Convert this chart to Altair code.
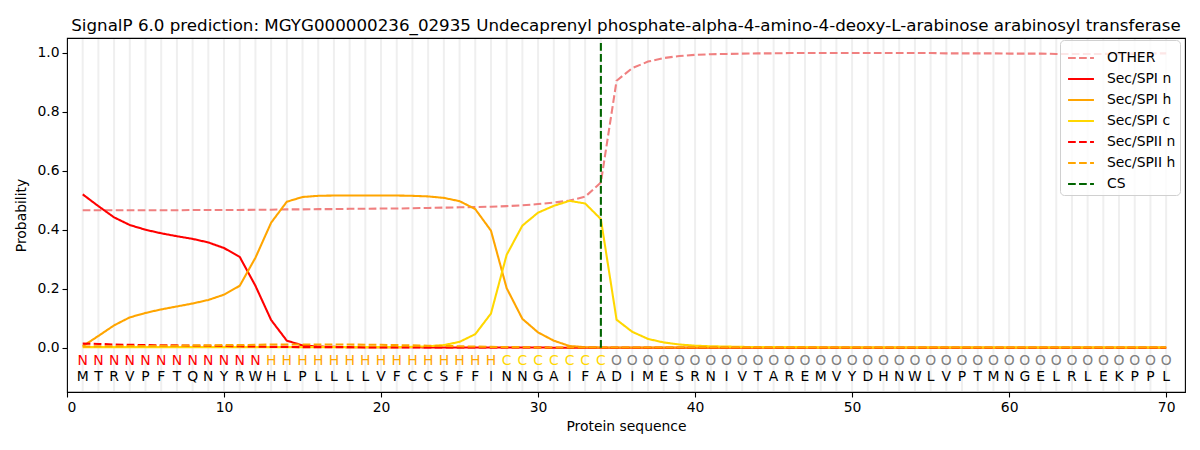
import altair as alt
import pandas as pd

TITLE = "SignalP 6.0 prediction: MGYG000000236_02935 Undecaprenyl phosphate-alpha-4-amino-4-deoxy-L-arabinose arabinosyl transferase"

SEQUENCE = list("MTRVPFTQNYRWHLPLLLLVFCCSFFINNGAIFADIMESRNIVTAREMVYDHNWLVPTMNGELRLEKPPL")
LABELS = list("NNNNNNNNNNNNHHHHHHHHHHHHHHHCCCCCCCOOOOOOOOOOOOOOOOOOOOOOOOOOOOOOOOOOOO")
CS_POS = 34

OTHER = [0.466, 0.466, 0.466, 0.466, 0.466, 0.466, 0.466, 0.467, 0.467, 0.467,
         0.467, 0.468, 0.468, 0.469, 0.469, 0.470, 0.470, 0.471, 0.471, 0.472,
         0.472, 0.473, 0.474, 0.475, 0.476, 0.477, 0.478, 0.480, 0.483, 0.487,
         0.492, 0.499, 0.512, 0.560, 0.905, 0.948, 0.970, 0.982, 0.989, 0.993,
         0.995, 0.996, 0.997, 0.998, 0.998, 0.999, 0.999, 0.999, 0.999, 0.999,
         0.999, 0.999, 0.999, 0.999, 0.999, 0.998, 0.998, 0.998, 0.998, 0.997,
         0.997, 0.997, 0.996, 0.996, 0.996, 0.996, 0.997, 0.997, 0.998, 0.998]

SPI_N = [0.520, 0.480, 0.442, 0.416, 0.400, 0.388, 0.378, 0.369, 0.357, 0.338,
         0.308, 0.210, 0.094, 0.024, 0.008, 0.004, 0.003, 0.002, 0.002, 0.002,
         0.002, 0.002, 0.001, 0.001, 0.001, 0.001, 0.001, 0.001, 0.001, 0.001,
         0.000, 0.000, 0.000, 0.000, 0.000, 0.000, 0.000, 0.000, 0.000, 0.000,
         0.000, 0.000, 0.000, 0.000, 0.000, 0.000, 0.000, 0.000, 0.000, 0.000,
         0.000, 0.000, 0.000, 0.000, 0.000, 0.000, 0.000, 0.000, 0.000, 0.000,
         0.000, 0.000, 0.000, 0.000, 0.000, 0.000, 0.000, 0.000, 0.000, 0.000]

SPI_H = [0.005, 0.040, 0.076, 0.103, 0.118, 0.130, 0.140, 0.150, 0.162, 0.180,
         0.210, 0.305, 0.424, 0.495, 0.511, 0.515, 0.516, 0.516, 0.516, 0.516,
         0.516, 0.515, 0.513, 0.508, 0.497, 0.470, 0.397, 0.202, 0.098, 0.052,
         0.024, 0.006, 0.002, 0.001, 0.001, 0.001, 0.001, 0.001, 0.001, 0.001,
         0.001, 0.001, 0.001, 0.001, 0.001, 0.001, 0.001, 0.001, 0.001, 0.001,
         0.001, 0.001, 0.001, 0.001, 0.001, 0.001, 0.001, 0.001, 0.001, 0.001,
         0.001, 0.001, 0.001, 0.001, 0.001, 0.001, 0.001, 0.001, 0.001, 0.001]

SPI_C = [0.002, 0.002, 0.002, 0.002, 0.002, 0.002, 0.002, 0.002, 0.002, 0.002,
         0.002, 0.002, 0.002, 0.002, 0.002, 0.002, 0.002, 0.002, 0.002, 0.002,
         0.002, 0.003, 0.005, 0.009, 0.020, 0.046, 0.116, 0.315, 0.414, 0.458,
         0.481, 0.498, 0.489, 0.436, 0.095, 0.054, 0.030, 0.018, 0.011, 0.007,
         0.005, 0.004, 0.003, 0.002, 0.002, 0.002, 0.002, 0.001, 0.001, 0.001,
         0.001, 0.001, 0.001, 0.001, 0.001, 0.001, 0.001, 0.001, 0.001, 0.001,
         0.001, 0.001, 0.001, 0.001, 0.001, 0.001, 0.001, 0.001, 0.001, 0.001]

SPII_N = [0.014, 0.013, 0.011, 0.010, 0.009, 0.008, 0.008, 0.007, 0.007, 0.006,
          0.005, 0.004, 0.003, 0.003, 0.002, 0.002, 0.002, 0.002, 0.001, 0.001,
          0.001, 0.001, 0.001, 0.001, 0.001, 0.001, 0.001, 0.001, 0.001, 0.001,
          0.000, 0.000, 0.000, 0.000, 0.000, 0.000, 0.000, 0.000, 0.000, 0.000,
          0.000, 0.000, 0.000, 0.000, 0.000, 0.000, 0.000, 0.000, 0.000, 0.000,
          0.000, 0.000, 0.000, 0.000, 0.000, 0.000, 0.000, 0.000, 0.000, 0.000,
          0.000, 0.000, 0.000, 0.000, 0.000, 0.000, 0.000, 0.000, 0.000, 0.000]

SPII_H = [0.004, 0.005, 0.005, 0.006, 0.006, 0.007, 0.007, 0.008, 0.008, 0.009,
          0.009, 0.010, 0.011, 0.011, 0.011, 0.011, 0.011, 0.011, 0.010, 0.010,
          0.009, 0.008, 0.007, 0.006, 0.005, 0.004, 0.003, 0.002, 0.002, 0.001,
          0.001, 0.001, 0.001, 0.001, 0.001, 0.001, 0.001, 0.001, 0.001, 0.001,
          0.001, 0.001, 0.001, 0.001, 0.001, 0.001, 0.001, 0.001, 0.001, 0.001,
          0.001, 0.001, 0.001, 0.001, 0.001, 0.001, 0.001, 0.001, 0.001, 0.001,
          0.001, 0.001, 0.001, 0.001, 0.001, 0.001, 0.001, 0.001, 0.001, 0.001]

CS_Y = [0.0, 1.04]

SERIES = ["OTHER", "Sec/SPI n", "Sec/SPI h", "Sec/SPI c", "Sec/SPII n", "Sec/SPII h", "CS"]
SERIES_COLORS = ["#f08080", "#ff0000", "#ffa500", "#ffd700", "#ff0000", "#ffa500", "#006400"]
DASH = [7.7, 3.3]
SOLID = [1, 0]
SERIES_DASHES = [DASH, SOLID, SOLID, SOLID, DASH, DASH, DASH]

LABEL_COLORS = {"N": "#ff0000", "H": "#ffa500", "C": "#ffd700", "O": "#808080"}

FONT = "DejaVu Sans"
FS = 13.9

positions = list(range(1, len(SEQUENCE) + 1))

rows = []
for name, vals in zip(SERIES[:-1], [OTHER, SPI_N, SPI_H, SPI_C, SPII_N, SPII_H]):
    for p, v in zip(positions, vals):
        rows.append({"pos": p, "prob": v, "series": name})
for v in CS_Y:
    rows.append({"pos": CS_POS, "prob": v, "series": "CS"})
df_lines = pd.DataFrame(rows)

df_seq = pd.DataFrame({"pos": positions, "aa": SEQUENCE, "lab": LABELS,
                       "lab_color": [LABEL_COLORS[l] for l in LABELS]})

x_scale = alt.Scale(domain=[0, 71.2], nice=False, zero=False)
y_scale = alt.Scale(domain=[-0.15, 1.05], nice=False, zero=False)

x_axis = alt.Axis(values=[0, 10, 20, 30, 40, 50, 60, 70], title="Protein sequence",
                  format="d", titlePadding=6)
y_axis = alt.Axis(values=[0.0, 0.2, 0.4, 0.6, 0.8, 1.0], title="Probability",
                  format=".1f", titlePadding=8)

grid = alt.Chart(df_seq).mark_rule(color="#efefef", strokeWidth=2).encode(
    x=alt.X("pos:Q", scale=x_scale, axis=x_axis),
    y=alt.value(1),
    y2=alt.value(353),
)

legend = alt.Legend(
    title=None, orient="none", legendX=993, legendY=2, symbolType="stroke",
    symbolSize=670, symbolStrokeWidth=2, labelFontSize=FS, labelFont=FONT,
    labelColor="black", labelOffset=12, rowPadding=0, padding=4, symbolOffset=3,
    strokeColor="#d0d0d0", fillColor="rgba(255,255,255,0.8)", cornerRadius=4,
)

lines = alt.Chart(df_lines).mark_line(strokeWidth=2.08).encode(
    x=alt.X("pos:Q", scale=x_scale, axis=x_axis),
    y=alt.Y("prob:Q", scale=y_scale, axis=y_axis),
    color=alt.Color("series:N", scale=alt.Scale(domain=SERIES, range=SERIES_COLORS),
                    legend=legend, sort=SERIES),
    strokeDash=alt.StrokeDash("series:N", scale=alt.Scale(domain=SERIES, range=SERIES_DASHES),
                              legend=legend, sort=SERIES),
    order=alt.Order("pos:Q"),
)

label_text = alt.Chart(df_seq).mark_text(font=FONT, fontSize=FS, baseline="middle", align="center").encode(
    x=alt.X("pos:Q", scale=x_scale, axis=x_axis),
    y=alt.value(323),
    text="lab:N",
    color=alt.Color("lab_color:N", scale=None),
)

aa_text = alt.Chart(df_seq).mark_text(font=FONT, fontSize=FS, baseline="middle", align="center",
                                      color="black").encode(
    x=alt.X("pos:Q", scale=x_scale, axis=x_axis),
    y=alt.value(339),
    text="aa:N",
)

chart = alt.layer(grid, lines, label_text, aa_text).properties(
    width=1118, height=354,
    padding={"left": 59, "top": 30, "right": 7, "bottom": 50},
    autosize=alt.AutoSizeParams(type="none"),
    title=alt.TitleParams(TITLE, font=FONT, fontSize=16.7, fontWeight="normal",
                          color="black", anchor="middle", offset=2),
).configure_view(
    stroke="black", strokeWidth=1.1
).configure_axis(
    domain=False, grid=False, tickColor="black", tickWidth=1.1, tickSize=5,
    labelFont=FONT, labelFontSize=FS, labelColor="black", labelPadding=3,
    titleFont=FONT, titleFontSize=FS, titleFontWeight="normal", titleColor="black",
)

chart.save("out.html", embed_options={"renderer": "svg", "actions": False})
